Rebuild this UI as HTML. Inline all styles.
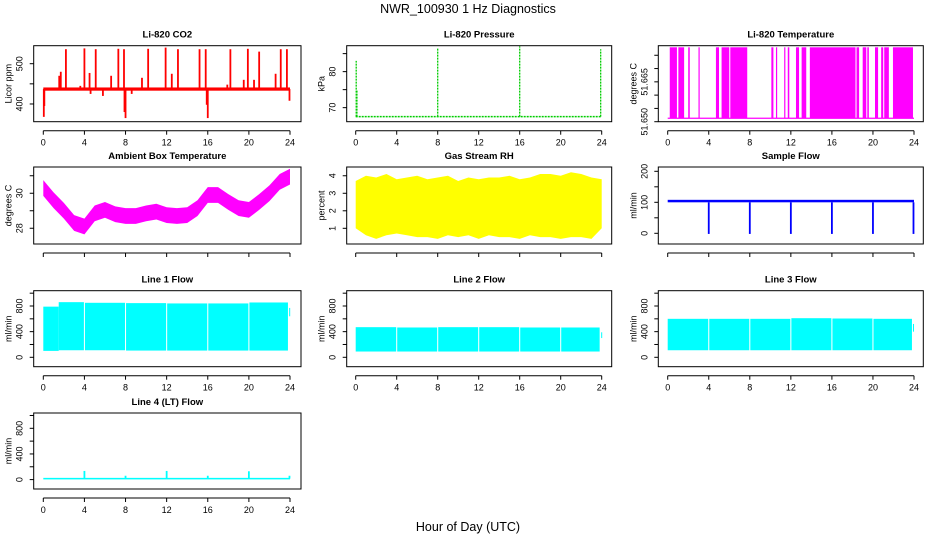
<!DOCTYPE html>
<html><head><meta charset="utf-8"><style>
html,body{margin:0;padding:0;background:#fff;}
svg{display:block;font-family:"Liberation Sans",Arial,sans-serif;}
</style></head><body>
<svg id="fig" width="936" height="540" viewBox="0 0 936 540" xmlns="http://www.w3.org/2000/svg">
<rect width="936" height="540" fill="#fff"/>
<text x="468" y="13" font-size="12.5" text-anchor="middle">NWR_100930  1 Hz Diagnostics</text>
<text x="468" y="531" font-size="12.5" text-anchor="middle">Hour of Day (UTC)</text>
</svg>
<script>
// ---------- data ----------
const hourTicks = [0,4,8,12,16,20,24];
const hours = [0,1,2,3,4,5,6,7,8,9,10,11,12,13,14,15,16,17,18,19,20,21,22,23,24];
// CO2
const co2Base = 437;
const co2SpikeHours = [1.55,1.7,2.2,3.6,4.0,4.5,5.1,6.6,7.3,7.85,9.6,10.2,11.9,12.5,13.1,15.2,15.8,17.9,18.2,19.5,19.9,20.5,21.0,22.6,23.1,23.7];
const co2SpikeVals  = [470,480,536,445,538,477,536,470,537,536,465,537,540,475,536,536,536,448,536,460,537,460,530,475,536,536];
const co2DipHours = [0.05,0.1,4.6,5.8,7.9,8.0,8.6,16.0,15.9,23.95];
const co2DipVals  = [368,395,425,420,380,365,425,365,398,408];
// Pressure
const presBase = 67.5;
const presSpikeHours = [0.05,0.12,8.0,16.0,23.9];
const presSpikeVals  = [83,75,86.5,87,86.2];
// Li-820 temperature (toggling intervals)
const tempLow = 51.6513, tempHigh = 51.678;
const tempOnStart = [0.2,1.04,2.0,3.0,4.7,5.25,6.1,10.1,10.55,11.35,11.7,12.5,13.05,13.85,18.4,19.0,19.45,20.2,20.8,21.1,21.95];
const tempOnEnd   = [0.9,1.6,2.15,3.05,5.0,6.0,7.75,10.3,10.6,11.4,11.85,12.8,13.5,18.3,18.65,19.35,19.6,20.5,21.0,21.55,23.9];
// Ambient box temperature (hourly center)
const ambCenter = [30.3,29.6,29.0,28.3,28.1,28.85,29.05,28.8,28.7,28.7,28.85,28.95,28.75,28.7,28.75,29.15,29.9,29.9,29.5,29.15,29.05,29.5,30.0,30.65,30.95];
const ambHalf = 0.45;
// Gas stream RH (hourly envelope)
const rhHi = [3.7,4.0,3.9,4.1,3.8,3.9,4.0,3.8,3.9,4.0,3.7,3.9,3.8,3.9,3.9,4.0,3.8,3.9,4.1,4.1,4.0,4.2,4.1,3.9,3.8];
const rhLo = [1.0,0.6,0.4,0.6,0.7,0.6,0.5,0.5,0.4,0.6,0.5,0.6,0.4,0.6,0.5,0.5,0.4,0.6,0.5,0.5,0.4,0.5,0.5,0.4,1.0];
// Sample flow
const flowHi = 108, flowLo = 100;
const flowDipHours = [4.0,8.0,12.0,16.0,20.0,23.95];
const flowDipVals  = [-2,-2,-2,-2,-2,-2];
// Line flows: segments
const l1Start=[0,1.5,4.05,8.05,12.05,16.05,20.05,23.92], l1End=[1.5,3.95,7.95,11.95,15.95,19.95,23.8,24], l1Hi=[790,860,850,845,840,840,855,770], l1Lo=[100,110,110,105,105,105,105,640];
const l2Start=[0,4.05,8.05,12.05,16.05,20.05,23.95], l2End=[3.95,7.95,11.95,15.95,19.95,23.8,24], l2Hi=[470,465,470,470,465,465,390], l2Lo=[90,90,90,90,90,90,300];
const l3Start=[0,4.05,8.05,12.05,16.05,20.05,23.9], l3End=[3.95,7.95,11.95,15.95,19.95,23.8,24], l3Hi=[600,600,600,610,605,600,520], l3Lo=[110,110,110,110,110,110,400];
const l4Base=15;
const l4SpikeHours=[4.0,8.0,12.0,16.0,20.0,23.95];
const l4SpikeVals=[135,60,135,60,130,60];

// ---------- layout ----------
const NS="http://www.w3.org/2000/svg";
const svg=document.getElementById('fig');
const colX=[[33.7,301],[346.7,611.7],[658.3,923.3]];
const colX0=[[43.3,290],[355.7,601.7],[667.7,914]];
const rowY=[[45.7,121.7],[167,244],[290.7,366.7],[413,489]];
function mk(tag,attrs,parent){const e=document.createElementNS(NS,tag);for(const k in attrs)e.setAttribute(k,attrs[k]);(parent||svg).appendChild(e);return e;}

function panel(o){
  const [bx0,bx1]=colX[o.col],[by0,by1]=rowY[o.row],[hx0,hx1]=colX0[o.col];
  const g=mk('g',{});
  
  
  const sx=h=>hx0+(hx1-hx0)*h/24;
  const sy=v=>by1-(v-o.ylim[0])/(o.ylim[1]-o.ylim[0])*(by1-by0);
  const plot=mk('g',{},g);
  
  
  o.draw(plot,sx,sy);
  const box=mk('rect',{x:bx0,y:by0,width:bx1-bx0,height:by1-by0,fill:'none',stroke:'#000','stroke-width':1},g);
  
  
  const t=mk('text',{x:(bx0+bx1)/2,y:by0-8,'font-size':9.5,'font-weight':'bold','text-anchor':'middle'},g);
  t.textContent=o.title;
  
  
  const ax=by1+9;
  const xa=mk('g',{stroke:'#000','stroke-width':1},g);
  
  
  mk('line',{x1:sx(0),x2:sx(24),y1:ax,y2:ax},xa);
  hourTicks.forEach(h=>{
    mk('line',{x1:sx(h),x2:sx(h),y1:ax,y2:ax+4},xa);
    if(o.xlabels){const tl=mk('text',{x:sx(h),y:ax+15,'font-size':9,'text-anchor':'middle',stroke:'none'},g);tl.textContent=h;
      
      }
  });
  const ya=mk('g',{stroke:'#000','stroke-width':1},g);
  
  
  o.yticks.forEach(v=>{mk('line',{x1:bx0-4,x2:bx0,y1:sy(v),y2:sy(v)},ya);});
  o.ylabels.forEach((v,i)=>{const lx=bx0-11,ly=sy(v);
    const tl=mk('text',{x:lx,y:ly,'font-size':9,'text-anchor':'middle',transform:`rotate(-90 ${lx} ${ly})`},g);
    tl.textContent=o.ylabelText?o.ylabelText[i]:v;
    
    });
  const yl=mk('text',{x:bx0-22,y:(by0+by1)/2,'font-size':9,'text-anchor':'middle',transform:`rotate(-90 ${bx0-22} ${(by0+by1)/2})`},g);
  yl.textContent=o.ylab;
  
  
}
function vline(p,x,y1,y2,c,w){return mk('line',{x1:x,x2:x,y1:y1,y2:y2,stroke:c,'stroke-width':w||1.3},p);}
function segs(p,sx,sy,st,en,hi,lo,c){st.forEach((s,i)=>{const r=mk('rect',{x:sx(s),y:sy(hi[i]),width:Math.max(1,sx(en[i])-sx(s)),height:sy(lo[i])-sy(hi[i]),fill:c},p);
  
  });}

panel({name:'co2-panel',col:0,row:0,title:'Li-820 CO2',ylab:'Licor ppm',ylim:[356,544.7],yticks:[400,450,500],ylabels:[400,500],xlabels:true,
 draw:(p,sx,sy)=>{
  mk('rect',{x:sx(0),y:sy(co2Base+4),width:sx(24)-sx(0),height:sy(co2Base-4)-sy(co2Base+4),fill:'#f00'},p);
  co2SpikeHours.forEach((h,i)=>{const l=vline(p,sx(h),sy(co2Base),sy(co2SpikeVals[i]),'#f00',1.8);});
  co2DipHours.forEach((h,i)=>{const l=vline(p,sx(h),sy(co2Base),sy(co2DipVals[i]),'#f00',1.8);});
 }});
panel({name:'pressure-panel',col:1,row:0,title:'Li-820 Pressure',ylab:'kPa',ylim:[66.1,87.2],yticks:[70,75,80,85],ylabels:[70,80],xlabels:true,
 draw:(p,sx,sy)=>{
  mk('line',{x1:sx(0),x2:sx(24),y1:sy(presBase),y2:sy(presBase),stroke:'#0c0','stroke-width':1.5,'stroke-dasharray':'2 1'},p);
  presSpikeHours.forEach((h,i)=>{const l=vline(p,sx(h),sy(presBase),sy(presSpikeVals[i]),'#0c0',1.3);l.setAttribute('stroke-dasharray','2 1');});
 }});
panel({name:'li820-temperature-panel',col:2,row:0,title:'Li-820 Temperature',ylab:'degrees C',ylim:[51.650,51.6786],yticks:[51.650,51.655,51.660,51.665,51.670,51.675],ylabels:[51.650,51.665],ylabelText:['51.650','51.665'],xlabels:true,
 draw:(p,sx,sy)=>{
  mk('line',{x1:sx(0),x2:sx(24),y1:sy(tempLow),y2:sy(tempLow),stroke:'#f0f','stroke-width':1.2},p);
  tempOnStart.forEach((s,i)=>{const r=mk('rect',{x:sx(s),y:sy(tempHigh),width:Math.max(1.2,sx(tempOnEnd[i])-sx(s)),height:sy(tempLow)-sy(tempHigh),fill:'#f0f'},p);});
 }});
panel({name:'ambient-temperature-panel',col:0,row:1,title:'Ambient Box Temperature',ylab:'degrees C',ylim:[27.1,31.5],yticks:[28,29,30,31],ylabels:[28,30],xlabels:false,
 draw:(p,sx,sy)=>{
  const top=hours.map((h,i)=>`${sx(h)},${sy(ambCenter[i]+ambHalf)}`),bot=hours.map((h,i)=>`${sx(h)},${sy(ambCenter[i]-ambHalf)}`).reverse();
  const pg=mk('polygon',{points:top.concat(bot).join(' '),fill:'#f0f'},p);
 }});
panel({name:'rh-panel',col:1,row:1,title:'Gas Stream RH',ylab:'percent',ylim:[0.104,4.5],yticks:[1,2,3,4],ylabels:[1,2,3,4],xlabels:false,
 draw:(p,sx,sy)=>{
  const top=hours.map((h,i)=>`${sx(h)},${sy(rhHi[i])}`),bot=hours.map((h,i)=>`${sx(h)},${sy(rhLo[i])}`).reverse();
  const pg=mk('polygon',{points:top.concat(bot).join(' '),fill:'#ff0'},p);
 }});
panel({name:'sample-flow-panel',col:2,row:1,title:'Sample Flow',ylab:'ml/min',ylim:[-34.5,213.9],yticks:[0,50,100,150,200],ylabels:[0,100,200],xlabels:false,
 draw:(p,sx,sy)=>{
  mk('rect',{x:sx(0),y:sy(flowHi),width:sx(24)-sx(0),height:sy(flowLo)-sy(flowHi),fill:'#00f'},p);
  flowDipHours.forEach((h,i)=>{const l=vline(p,sx(h),sy(flowLo),sy(flowDipVals[i]),'#00f',1.8);});
 }});
const flowLim=[-146.6,1038.7],flowTicks=[0,200,400,600,800,1000],flowLabels=[0,400,800];
panel({name:'line1-flow-panel',col:0,row:2,title:'Line 1 Flow',ylab:'ml/min',ylim:flowLim,yticks:flowTicks,ylabels:flowLabels,xlabels:true,
 draw:(p,sx,sy)=>segs(p,sx,sy,l1Start,l1End,l1Hi,l1Lo,'#0ff')});
panel({name:'line2-flow-panel',col:1,row:2,title:'Line 2 Flow',ylab:'ml/min',ylim:flowLim,yticks:flowTicks,ylabels:flowLabels,xlabels:true,
 draw:(p,sx,sy)=>segs(p,sx,sy,l2Start,l2End,l2Hi,l2Lo,'#0ff')});
panel({name:'line3-flow-panel',col:2,row:2,title:'Line 3 Flow',ylab:'ml/min',ylim:flowLim,yticks:flowTicks,ylabels:flowLabels,xlabels:true,
 draw:(p,sx,sy)=>segs(p,sx,sy,l3Start,l3End,l3Hi,l3Lo,'#0ff')});
panel({name:'line4-flow-panel',col:0,row:3,title:'Line 4 (LT) Flow',ylab:'ml/min',ylim:flowLim,yticks:flowTicks,ylabels:flowLabels,xlabels:true,
 draw:(p,sx,sy)=>{
  mk('rect',{x:sx(0),y:sy(l4Base+12),width:sx(24)-sx(0),height:sy(l4Base-12)-sy(l4Base+12),fill:'#0ff'},p);
  l4SpikeHours.forEach((h,i)=>{const l=vline(p,sx(h),sy(l4Base),sy(l4SpikeVals[i]),'#0ff',1.8);});
 }});
</script>
</body></html>
